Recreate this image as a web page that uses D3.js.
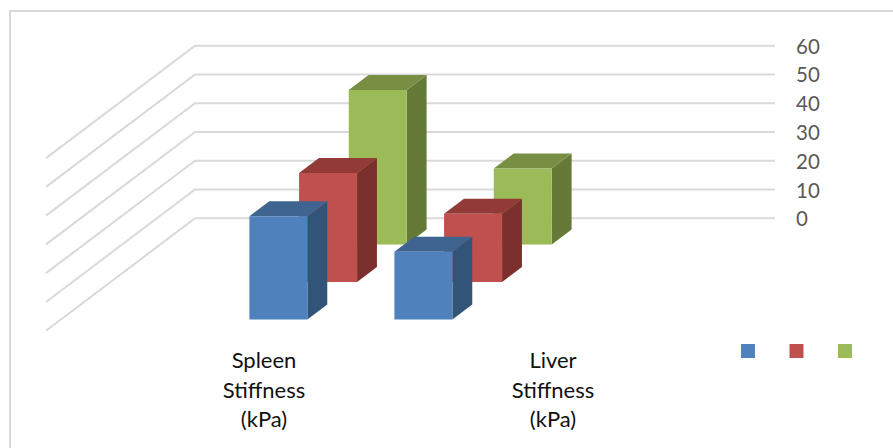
<!DOCTYPE html>
<html lang="en">
<head>
<meta charset="utf-8">
<title>Spleen and liver stiffness</title>
<style>
 html, body { margin: 0; padding: 0; background: #fff; }
 svg { display: block; }
 text { font-family: Lato, "Open Sans", sans-serif; }
</style>
<script src="https://cdn.jsdelivr.net/npm/d3@7"></script>
</head>
<body>
<div id="graph"></div>
<script>
// values
const categories = ["blankA", "Spleen", "Liver", "blankB"];
const categoryLabels = [["Spleen", "Stiffness", "(kPa)"], ["Liver", "Stiffness", "(kPa)"]];
const series = ["s1", "s2", "s3"];
const seriesSpleen = [35.9, 37.9, 53.7];
const seriesLiver = [23.5, 23.7, 26.4];
const yTicks = [0, 10, 20, 30, 40, 50, 60];
const fills = ["#4f81bd", "#c0504d", "#9bbb59"];
const tops = ["#3e648f", "#913a38", "#778e43"];
const sides = ["#325479", "#7b302e", "#667a38"];

const width = 893, height = 448;

const svg = d3.select("#graph").append("svg")
    .attr("width", width)
    .attr("height", height);

// outer chart border, only top and left are inside the picture
svg.append("rect")
    .attr("x", 10).attr("y", 11)
    .attr("width", 900).attr("height", 460)
    .attr("fill", "none")
    .attr("stroke", "#d9d9d9")
    .attr("stroke-width", 2);

// front plane scales, depth moves a point towards the back wall
const x = d3.scaleBand().domain(categories).range([46, 626]).paddingInner(0.6).paddingOuter(0.3);
const y = d3.scaleLinear().domain([0, 60]).range([218.3, 45.7]);
const z = d3.scaleBand().domain(series).range([0, 1]).paddingInner(0.6).paddingOuter(0.3);
const depthX = d3.scaleLinear().domain([0, 1]).range([0, 149]);
const depthY = d3.scaleLinear().domain([0, 1]).range([112.4, 0]);

function pt(px, v, d) {
    return [px + depthX(d), y(v) + depthY(d)];
}

// gridlines on side wall and back wall
const line = d3.line();
svg.append("g").selectAll("path")
    .data(yTicks)
    .join("path")
    .attr("d", t => line([pt(46, t, 0), pt(46, t, 1), pt(775 - 149, t, 1)]))
    .attr("fill", "none")
    .attr("stroke", "#d9d9d9")
    .attr("stroke-width", 2);

// tick labels
svg.append("g").selectAll("text")
    .data(yTicks)
    .join("text")
    .attr("x", 796)
    .attr("y", t => y(t) + 8)
    .attr("font-size", 20.5)
    .attr("fill", "#595959")
    .text(t => t);

// bars, back series first so the front ones overlap
const rows = [["Spleen", seriesSpleen], ["Liver", seriesLiver]];
const bars = [];
series.forEach((s, i) => rows.forEach(r => bars.push({cat: r[0], s: s, i: i, v: r[1][i]})));
bars.sort((a, b) => b.i - a.i || categories.indexOf(a.cat) - categories.indexOf(b.cat));

const g = svg.append("g").selectAll("g").data(bars).join("g");

g.each(function (d) {
    const el = d3.select(this);
    const x0 = x(d.cat), x1 = x0 + x.bandwidth();
    const z0 = z(d.s), z1 = z0 + z.bandwidth();
    el.append("path")
        .attr("fill", sides[d.i])
        .attr("d", line([pt(x1, 0, z0), pt(x1, 0, z1), pt(x1, d.v, z1), pt(x1, d.v, z0)]) + "Z");
    el.append("path")
        .attr("fill", tops[d.i])
        .attr("d", line([pt(x0, d.v, z0), pt(x0, d.v, z1), pt(x1, d.v, z1), pt(x1, d.v, z0)]) + "Z");
    el.append("path")
        .attr("fill", fills[d.i])
        .attr("d", line([pt(x0, 0, z0), pt(x1, 0, z0), pt(x1, d.v, z0), pt(x0, d.v, z0)]) + "Z");
});

// category labels do not sit under their bars in the original
const labelX = d3.scalePoint().domain([0, 1]).range([264, 553]);
svg.append("g").selectAll("text")
    .data(categoryLabels)
    .join("text")
    .attr("text-anchor", "middle")
    .attr("font-size", 22)
    .attr("fill", "#111")
    .each(function (lines, i) {
        d3.select(this).selectAll("tspan")
            .data(lines)
            .join("tspan")
            .attr("x", labelX(i))
            .attr("y", (_, k) => 368 + k * 29.5)
            .text(l => l);
    });

// legend has swatches only
const legendX = d3.scalePoint().domain(series).range([741, 838]);
svg.append("g").selectAll("rect")
    .data(series)
    .join("rect")
    .attr("x", s => legendX(s))
    .attr("y", 344)
    .attr("width", 14)
    .attr("height", 14)
    .attr("fill", (s, i) => fills[i]);
</script>
</body>
</html>
